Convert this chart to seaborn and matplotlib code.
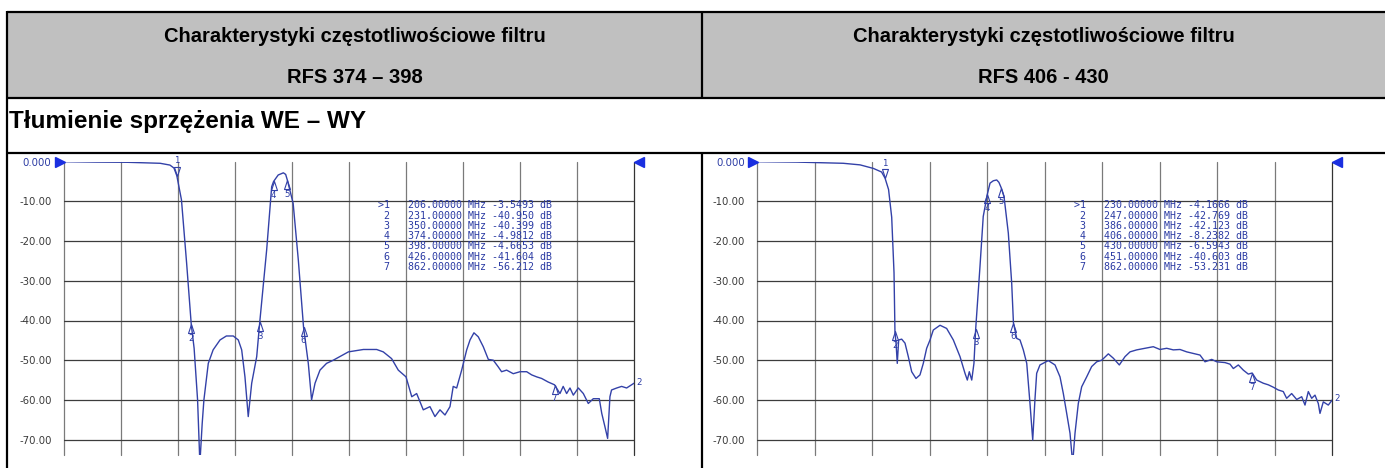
import numpy as np
import pandas as pd
import matplotlib
matplotlib.use("Agg")
import matplotlib.pyplot as plt
import seaborn as sns
from matplotlib.lines import Line2D
from matplotlib.patches import Rectangle
from matplotlib.path import Path

# ---------------- data ----------------
header_line1 = "Charakterystyki częstotliwościowe filtru"
header_left = "RFS 374 – 398"
header_right = "RFS 406 - 430"
row_title = "Tłumienie sprzężenia WE – WY"

freq_start, freq_stop = 10, 1000          # MHz
ytick_values = [0, -10, -20, -30, -40, -50, -60, -70]
ytick_labels = ["0.000", "-10.00", "-20.00", "-30.00", "-40.00", "-50.00", "-60.00", "-70.00"]

freq_left = [10, 67, 120, 177, 194, 201, 206, 214, 223, 231, 236, 242, 246, 250, 253,
             260.6, 269, 281, 292, 304, 312.7, 318.6, 324.3, 330, 336, 344.7, 350,
             362, 370.7, 374, 382, 391, 395, 398, 408, 417, 426, 434.3, 440, 446,
             454.6, 466, 477.7, 489, 504, 530, 553, 564.5, 579, 590.6, 604, 614,
             622.5, 634, 645.6, 654.3, 663, 671.7, 680.4, 686, 692, 700.7, 709.4,
             715.2, 722, 729.5, 738.2, 747, 755.6, 764.3, 770, 778.8, 790.3, 802,
             813.6, 822.3, 831, 839.6, 851, 862, 871.4, 877, 883, 888.8, 894.6,
             903.3, 912, 920.6, 929.3, 939.7, 944, 949.6, 954.2, 958.2, 961, 970,
             978.5, 987.2, 1000]
db_left = [0.0, -0.1, -0.15, -0.4, -0.85, -1.6, -3.55, -9.6, -25.6, -40.95, -47.0, -60.0,
           -76.0, -66.0, -60.0, -50.8, -47.4, -44.9, -43.9, -43.9, -44.9, -47.4, -54.2,
           -64.2, -55.8, -49.1, -40.4, -22.2, -6.3, -4.98, -3.35, -2.8, -3.2, -4.67,
           -10.5, -24.8, -41.6, -50.8, -60.0, -55.8, -52.5, -50.8, -50.0, -49.1, -47.9,
           -47.3, -47.3, -47.9, -49.6, -52.5, -54.2, -59.2, -58.4, -62.5, -61.7, -64.2,
           -62.5, -63.8, -61.7, -56.6, -57.0, -52.5, -47.4, -44.9, -43.1, -44.1, -46.6,
           -49.8, -50.0, -51.7, -52.9, -52.5, -53.4, -52.9, -52.9, -53.7, -54.2, -54.6,
           -55.5, -56.2, -58.4, -56.6, -58.4, -57.0, -58.8, -57.0, -58.4, -60.9, -59.7,
           -59.7, -63.4, -66.8, -69.7, -59.2, -57.5, -57.0, -56.6, -57.0, -55.8]
marker_freq_left = [206, 231, 350, 374, 398, 426, 862]
marker_db_left = [-3.5493, -40.950, -40.399, -4.9812, -4.6653, -41.604, -56.212]

freq_right = [10, 78, 158, 187, 210, 224, 230, 236, 241.4, 245.4, 247, 249, 251, 253.4,
              258.6, 264.3, 270, 275.8, 283.2, 290.1, 295.8, 301.6, 307.4, 313, 324.6,
              336, 347.5, 359, 367.6, 371.6, 375, 379.2, 383, 386, 393.4, 399, 406,
              410.7, 416.4, 422.2, 426, 430, 434.8, 442.2, 448, 451, 456.6, 462.3, 468,
              473.9, 479.5, 484.2, 488, 491, 496.7, 511, 522.6, 531.2, 536.9, 542.7,
              548.4, 553, 557, 562.7, 568.5, 577.1, 585.7, 594.4, 603, 614.4, 623,
              633.3, 643.1, 651.7, 663.2, 677.5, 691.8, 703.3, 714.9, 726.3, 737.8,
              749.3, 760.7, 772.2, 780.8, 792.4, 801, 815.3, 823.9, 829.6, 838.2,
              846.8, 855.4, 862, 869.8, 881.2, 889.8, 898.4, 907, 915.6, 921.4, 930,
              938.7, 947.3, 953, 958.7, 964.5, 970.2, 975.9, 978.8, 984.5, 993.1, 1000]
db_right = [0.0, -0.1, -0.4, -0.8, -1.7, -2.6, -4.17, -7.0, -14.0, -28.0, -42.77, -46.0,
            -50.8, -44.9, -44.7, -45.7, -49.1, -52.9, -54.6, -53.7, -50.8, -47.0, -44.9,
            -42.4, -41.2, -42.0, -44.9, -49.1, -53.3, -55.0, -52.9, -55.0, -50.8, -42.12,
            -26.4, -13.8, -8.24, -5.4, -4.8, -4.6, -5.2, -6.59, -8.8, -18.0, -30.6, -40.6,
            -44.5, -44.9, -47.4, -50.8, -60.9, -70.1, -60.0, -53.3, -51.2, -50.1, -51.2,
            -54.2, -58.4, -63.4, -68.4, -76.0, -68.4, -60.9, -56.7, -54.2, -51.6, -50.4,
            -50.0, -48.4, -49.5, -51.2, -49.1, -47.9, -47.4, -47.0, -46.6, -47.3, -47.0,
            -47.4, -47.3, -47.9, -48.3, -48.7, -50.4, -49.8, -50.4, -50.6, -51.0, -52.1,
            -51.2, -52.5, -53.5, -53.23, -55.0, -55.8, -56.2, -56.8, -57.5, -57.9, -59.6,
            -58.4, -59.9, -59.2, -61.3, -57.9, -59.6, -58.8, -60.9, -63.4, -60.5, -61.3,
            -60.0]
marker_freq_right = [230, 247, 386, 406, 430, 451, 862]
marker_db_right = [-4.1666, -42.769, -42.123, -8.2382, -6.5943, -40.603, -53.231]

# ---------------- style ----------------
sns.set_style("white")
plt.rcParams["font.family"] = ["DejaVu Sans"]

W, H = 1385, 468
TRACE = "#3341a8"
TXT_BLUE = "#2a3aa3"
GRID_H = "#3c3c3c"
GRID_V = "#7a7a7a"

fig = plt.figure(figsize=(W / 100, H / 100), dpi=100)
fig.patch.set_facecolor("white")


def fx(x):
    return x / W


def fy(y):
    return 1 - y / H


# table structure
fig.add_artist(Rectangle((fx(7), fy(98)), fx(W - 7), (98 - 12) / H,
                         transform=fig.transFigure, facecolor="#c0c0c0", edgecolor="none", zorder=0))
lw = 1.6
for (x0, y0, x1, y1) in [(7, 12, W, 12), (7, 98, W, 98), (7, 153, W, 153),
                         (7, 11, 7, H), (702, 12, 702, 98), (702, 153, 702, H)]:
    fig.add_artist(Line2D([fx(x0), fx(x1)], [fy(y0), fy(y1)], transform=fig.transFigure,
                          color="black", lw=lw, solid_capstyle="butt", zorder=5))

hfont = dict(family="Liberation Sans", weight="bold", color="black")
fig.text(fx(354.5), fy(41.7), header_line1, ha="center", va="baseline", fontsize=14.5, **hfont)
fig.text(fx(354.5), fy(83.3), header_left, ha="center", va="baseline", fontsize=14.5, **hfont)
fig.text(fx(1043.5), fy(41.7), header_line1, ha="center", va="baseline", fontsize=14.5, **hfont)
fig.text(fx(1043.5), fy(83.3), header_right, ha="center", va="baseline", fontsize=14.5, **hfont)
fig.text(fx(9), fy(128.3), row_title, ha="left", va="baseline", fontsize=17.5, **hfont)

# marker shapes (apex at the data point)
up_tri = Path([(0, 0), (0.33, -1), (-0.33, -1), (0, 0)],
              [Path.MOVETO, Path.LINETO, Path.LINETO, Path.CLOSEPOLY])
down_tri = Path([(0, 0), (0.33, 1), (-0.33, 1), (0, 0)],
                [Path.MOVETO, Path.LINETO, Path.LINETO, Path.CLOSEPOLY])

y_top_px, y_bot_px = 161.7, 455.0
px_per_db = 3.97
y_min = -(y_bot_px - y_top_px) / px_per_db


def draw_panel(left_px, width_px, freq, db, mfreq, mdb):
    ax = fig.add_axes([fx(left_px), fy(y_bot_px), width_px / W, (y_bot_px - y_top_px) / H])
    ax.set_facecolor("none")
    ax.set_xlim(freq_start, freq_stop)
    ax.set_ylim(y_min, 0)
    for s in ax.spines.values():
        s.set_visible(False)
    # grid
    step = (freq_stop - freq_start) / 10
    for k in range(11):
        ax.axvline(freq_start + k * step, color=GRID_V if k < 10 else "#333333",
                   lw=0.9, zorder=1, clip_on=False)
    for v in ytick_values[1:]:
        ax.axhline(v, color=GRID_H, lw=0.9, zorder=1)
    ax.set_xticks([])
    ax.set_yticks(ytick_values)
    ax.set_yticklabels(ytick_labels)
    ax.tick_params(axis="y", length=0, pad=9, labelsize=7.3, labelcolor="#3a3a3a")
    ax.get_yticklabels()[0].set_color(TXT_BLUE)

    df = pd.DataFrame({"freq": freq, "db": db})
    sns.lineplot(data=df, x="freq", y="db", ax=ax, color=TRACE, lw=1.0,
                 estimator=None, sort=False, zorder=3)
    ax.set_xlabel("")
    ax.set_ylabel("")

    # reference pointers
    ax.plot([-4.0 / width_px], [0], transform=ax.get_yaxis_transform(), marker=">",
            ms=7.5, color="#1a2fe0", clip_on=False, zorder=4, ls="none")
    ax.plot([1 + 5.0 / width_px], [0], transform=ax.get_yaxis_transform(), marker="<",
            ms=7.5, color="#1a2fe0", clip_on=False, zorder=4, ls="none")

    # markers
    for i, (f, v) in enumerate(zip(mfreq, mdb)):
        if i == 0:
            ax.plot([f], [v], marker=down_tri, ms=13, mfc="none", mec=TRACE, mew=0.8,
                    ls="none", clip_on=False, zorder=4)
            ax.annotate(str(i + 1), xy=(f, v), xytext=(0, 15), textcoords="offset pixels",
                        ha="center", va="center", fontsize=6.2, color=TXT_BLUE)
        else:
            ax.plot([f], [v], marker=up_tri, ms=13, mfc="none", mec=TRACE, mew=0.8,
                    ls="none", clip_on=False, zorder=4)
            ax.annotate(str(i + 1), xy=(f, v), xytext=(0, -14), textcoords="offset pixels",
                        ha="center", va="center", fontsize=6.2, color=TXT_BLUE)
    ax.annotate("2", xy=(freq[-1], db[-1]), xytext=(5, 1), textcoords="offset pixels",
                ha="center", va="center", fontsize=6.2, color=TXT_BLUE, annotation_clip=False)

    # marker table
    x0 = (377.7 - 64) / 570
    y0 = (y_bot_px - 205.5) / (y_bot_px - y_top_px)
    dy = 10.2 / (y_bot_px - y_top_px)
    for i, (f, v) in enumerate(zip(mfreq, mdb)):
        lab = ">1" if i == 0 else str(i + 1)
        line = f"{lab:>2}   {f:.5f} MHz {v:#.5g} dB"
        ax.text(x0, y0 - i * dy, line, transform=ax.transAxes, ha="left", va="center",
                family="DejaVu Sans Mono", fontsize=7.2, color=TXT_BLUE, zorder=5)
    return ax


draw_panel(64, 570, freq_left, db_left, marker_freq_left, marker_db_left)
draw_panel(757.3, 575, freq_right, db_right, marker_freq_right, marker_db_right)

fig.savefig("out.png", dpi=100)
